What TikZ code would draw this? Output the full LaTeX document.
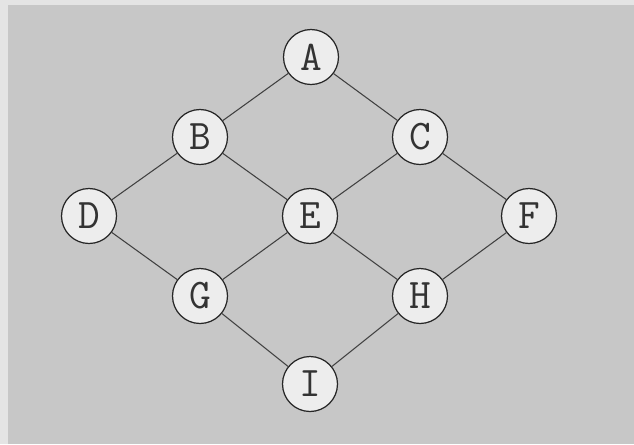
\documentclass[tikz,border=0pt]{standalone}
\usepackage{xcolor}
\definecolor{paper}{RGB}{228,228,228}
\definecolor{panel}{RGB}{199,199,199}
\definecolor{ballfill}{RGB}{237,237,237}
\tikzset{
  vertex/.style={circle,draw=black!85,line width=0.7pt,fill=ballfill,minimum size=1.1cm,inner sep=0pt,
    text=black!80,font=\ttfamily\fontsize{24}{24}\selectfont},
  link/.style={draw=black!75,line width=0.6pt}
}

\begin{document}
\begin{tikzpicture}[x=0.02cm,y=-0.02cm,line cap=round]
  % background
  \fill[paper] (0,0) rectangle (634,444);
  \fill[panel] (8,5) rectangle (634,444);
  \useasboundingbox (0,0) rectangle (634,444);
  % lattice nodes
  \node (A) [vertex] at (311,57)  {A};
  \node (B) [vertex] at (200,137) {B};
  \node (C) [vertex] at (420,137) {C};
  \node (D) [vertex] at (89,216)  {D};
  \node (E) [vertex] at (310,216) {E};
  \node (F) [vertex] at (529,216) {F};
  \node (G) [vertex] at (200,296) {G};
  \node (H) [vertex] at (420,296) {H};
  \node (I) [vertex] at (310,384) {I};
  % edges
  \draw[link] (A) -- (B);
  \draw[link] (A) -- (C);
  \draw[link] (B) -- (D);
  \draw[link] (B) -- (E);
  \draw[link] (C) -- (E);
  \draw[link] (C) -- (F);
  \draw[link] (D) -- (G);
  \draw[link] (E) -- (G);
  \draw[link] (E) -- (H);
  \draw[link] (F) -- (H);
  \draw[link] (G) -- (I);
  \draw[link] (H) -- (I);
\end{tikzpicture}
\end{document}
